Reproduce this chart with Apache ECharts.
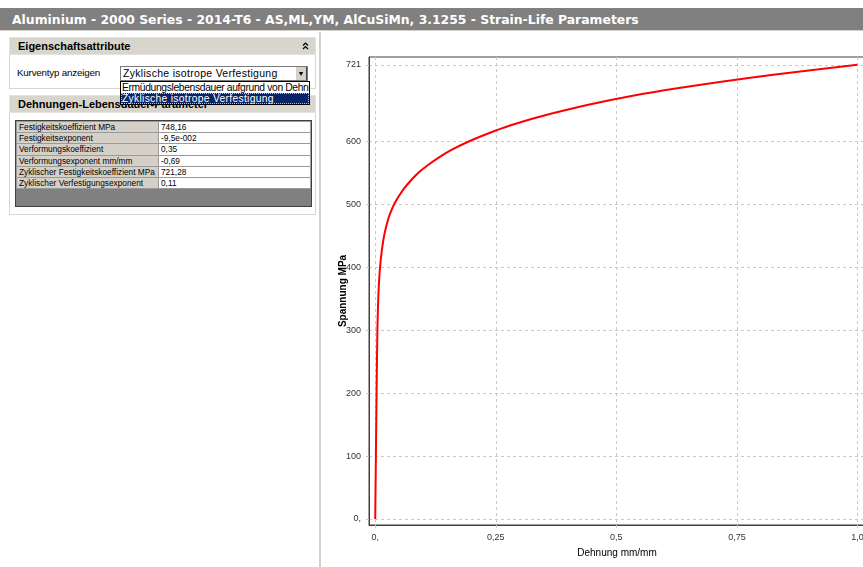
<!DOCTYPE html>
<html>
<head>
<meta charset="utf-8">
<script src="https://cdn.jsdelivr.net/npm/echarts@6/dist/echarts.min.js"></script>
<style>
  html, body { margin: 0; padding: 0; width: 863px; height: 567px; overflow: hidden; background: #fff; font-family: "Liberation Sans", Arial, sans-serif; }
  .abs { position: absolute; }
  #title { left: 0; top: 8px; width: 863px; height: 23px; background: #808080; border-bottom: 1px solid #d4d0c8; color: #fff;
           font: bold 12.4px "DejaVu Sans", Verdana, sans-serif; line-height: 23px; padding-left: 12px; box-sizing: border-box; white-space: nowrap; }
  #sep { left: 319px; top: 32px; width: 2px; height: 535px; background: #d4d0c8; }
  .phead { left: 9px; width: 307px; height: 18px; background: #d8d5cd; border: 1px solid #e4e2dc; box-sizing: border-box;
           font: bold 11px "Liberation Sans", Arial, sans-serif; line-height: 17px; padding-left: 8px; color: #000; }
  .pbody { left: 9px; width: 307px; background: #fff; border: 1px solid #d8d5cd; border-top: none; box-sizing: border-box; }
  .small { font-size: 9.8px; letter-spacing: -0.2px; color: #000; }
  #select { left: 120px; top: 66px; width: 188px; height: 15px; border: 1px solid #7a7a7a; box-sizing: border-box; background: #fff;
            font-size: 10.5px; letter-spacing: 0.3px; line-height: 13px; padding-left: 2px; }
  #arrow { right: 0px; top: 0px; width: 12px; height: 13px; background: #d4d0c8; border-left: 1px solid #fff; border-right: 1px solid #404040;
           box-sizing: border-box; font-size: 7px; letter-spacing: 0; line-height: 13px; text-align: center; }
  #list { left: 120px; top: 81px; width: 190px; height: 24px; border: 1px solid #000; box-sizing: border-box; background: #fff; font-size: 10.3px; overflow: hidden; }
  #list div { height: 11px; line-height: 11px; padding-left: 1px; white-space: nowrap; }
  #list .first { letter-spacing: -0.35px; }
  #list .sel { background: #0a246a; color: #fff; outline: 1px dotted #c0c0c0; outline-offset: -1px; letter-spacing: 0.3px; }
  table { border-collapse: collapse; font-size: 8.3px; }
  td { height: 10.2px; padding: 0 0 0 2px; border: 1px solid #9a9a9a; line-height: 10px; white-space: nowrap; }
  td.k { background: #d4d0c8; width: 139px; }
  td.v { background: #fff; width: 149px; }
  #chart { left: 321px; top: 33px; width: 542px; height: 534px; }
</style>
</head>
<body>
<div id="title" class="abs">Aluminium - 2000 Series - 2014-T6 - AS,ML,YM, AlCuSiMn, 3.1255 - Strain-Life Parameters</div>
<div id="sep" class="abs"></div>

<div class="abs phead" style="top:37px;">Eigenschaftsattribute
  <svg style="position:absolute;right:6px;top:4px;" width="7" height="8" viewBox="0 0 7 8">
    <polyline points="1,3.5 3.5,1 6,3.5" fill="none" stroke="#000" stroke-width="1.2"/>
    <polyline points="1,7 3.5,4.5 6,7" fill="none" stroke="#000" stroke-width="1.2"/>
  </svg>
</div>
<div class="abs pbody" style="top:55px;height:34px;"></div>
<div class="abs small" style="left:17px;top:67px;">Kurventyp anzeigen</div>

<div class="abs phead" style="top:95px;">Dehnungen-Lebensdauer-Parameter</div>
<div class="abs pbody" style="top:113px;height:102px;"></div>
<div class="abs" style="left:15px;top:120px;border:1px solid #404040;">
  <table id="params"></table>
  <div style="height:17px;background:#808080;"></div>
</div>

<div id="select" class="abs">Zyklische isotrope Verfestigung<div id="arrow" class="abs">&#9660;</div></div>
<div id="list" class="abs">
  <div class="first">Ermüdungslebensdauer aufgrund von Dehnung</div>
  <div class="sel">Zyklische isotrope Verfestigung</div>
</div>

<div id="chart" class="abs"></div>

<script>
// parameter table
var paramNames = ['Festigkeitskoeffizient MPa', 'Festigkeitsexponent', 'Verformungskoeffizient',
  'Verformungsexponent mm/mm', 'Zyklischer Festigkeitskoeffizient MPa', 'Zyklischer Verfestigungsexponent'];
var paramValues = ['748,16', '-9,5e-002', '0,35', '-0,69', '721,28', '0,11'];

// curve: strain (mm/mm) and stress (MPa)
var strain = [0, 0.0014, 0.0028, 0.0045, 0.0063, 0.0078, 0.0100, 0.0135, 0.0185, 0.0265, 0.0320, 0.0395, 0.0485,
  0.0600, 0.0735, 0.0900, 0.1095, 0.1340, 0.1610, 0.196, 0.234, 0.281, 0.333, 0.40, 0.469, 0.556, 0.654, 0.774, 0.877, 1.0];
var stress = [0, 100, 200, 300, 350, 375, 400, 425, 450, 475, 487, 500, 512,
  525, 537, 550, 562, 575, 587, 600, 612, 625, 637, 650, 662, 675, 687, 700, 710, 721];

// ticks
var xTickValues = [0, 0.25, 0.5, 0.75, 1.0];
var xTickLabels = ['0,', '0,25', '0,5', '0,75', '1,0'];
var yTickValues = [0, 100, 200, 300, 400, 500, 600, 721];
var yTickLabels = ['0,', '100', '200', '300', '400', '500', '600', '721'];

var rows = '';
for (var i = 0; i < paramNames.length; i++) {
  rows += '<tr><td class="k">' + paramNames[i] + '</td><td class="v">' + paramValues[i] + '</td></tr>';
}
document.getElementById('params').innerHTML = rows;

var chartDom = document.getElementById('chart');
var myChart = echarts.init(chartDom);

var points = [];
for (var j = 0; j < strain.length; j++) points.push([strain[j], stress[j]]);

function labelFor(values, labels) {
  return function (v) {
    for (var k = 0; k < values.length; k++) {
      if (Math.abs(values[k] - v) < 1e-9) return labels[k];
    }
    return '';
  };
}

var gridLine = { show: true, lineStyle: { color: '#c8c8c8', type: [3, 3], width: 1 } };
var tickStyle = { show: true, length: 6, lineStyle: { color: '#c8c8c8', type: [3, 3] } };

var option = {
  animation: false,
  backgroundColor: '#fff',
  textStyle: { fontFamily: 'Liberation Sans' },
  grid: {
    left: 48, top: 24, right: -2, bottom: 42,
    outerBoundsMode: 'none',
    show: true, borderColor: '#404040', borderWidth: 1, backgroundColor: '#fff'
  },
  xAxis: {
    type: 'value',
    min: -0.0129, max: 1.0156,
    name: 'Dehnung mm/mm',
    nameLocation: 'middle',
    nameGap: 23,
    nameMoveOverlap: false,
    nameTextStyle: { color: '#000', fontSize: 10 },
    axisLine: { show: true, onZero: false, lineStyle: { color: '#404040' } },
    axisTick: Object.assign({ customValues: xTickValues }, tickStyle),
    axisLabel: { customValues: xTickValues, formatter: labelFor(xTickValues, xTickLabels), color: '#333', fontSize: 9, margin: 8 },
    splitLine: gridLine
  },
  yAxis: {
    type: 'value',
    min: -9.5, max: 733.4,
    name: 'Spannung MPa',
    nameLocation: 'middle',
    nameGap: 21,
    nameMoveOverlap: false,
    nameTextStyle: { color: '#000', fontSize: 10, fontWeight: 'bold' },
    axisLine: { show: true, onZero: false, lineStyle: { color: '#404040' } },
    axisTick: Object.assign({ customValues: yTickValues }, tickStyle),
    axisLabel: { customValues: yTickValues, formatter: labelFor(yTickValues, yTickLabels), color: '#333', fontSize: 9, margin: 8 },
    splitLine: gridLine
  },
  series: [{
    type: 'line',
    data: points,
    showSymbol: false,
    smooth: 0.25,
    lineStyle: { color: '#ff0000', width: 2 },
    itemStyle: { color: '#ff0000' }
  }]
};

option && myChart.setOption(option);
</script>
</body>
</html>
